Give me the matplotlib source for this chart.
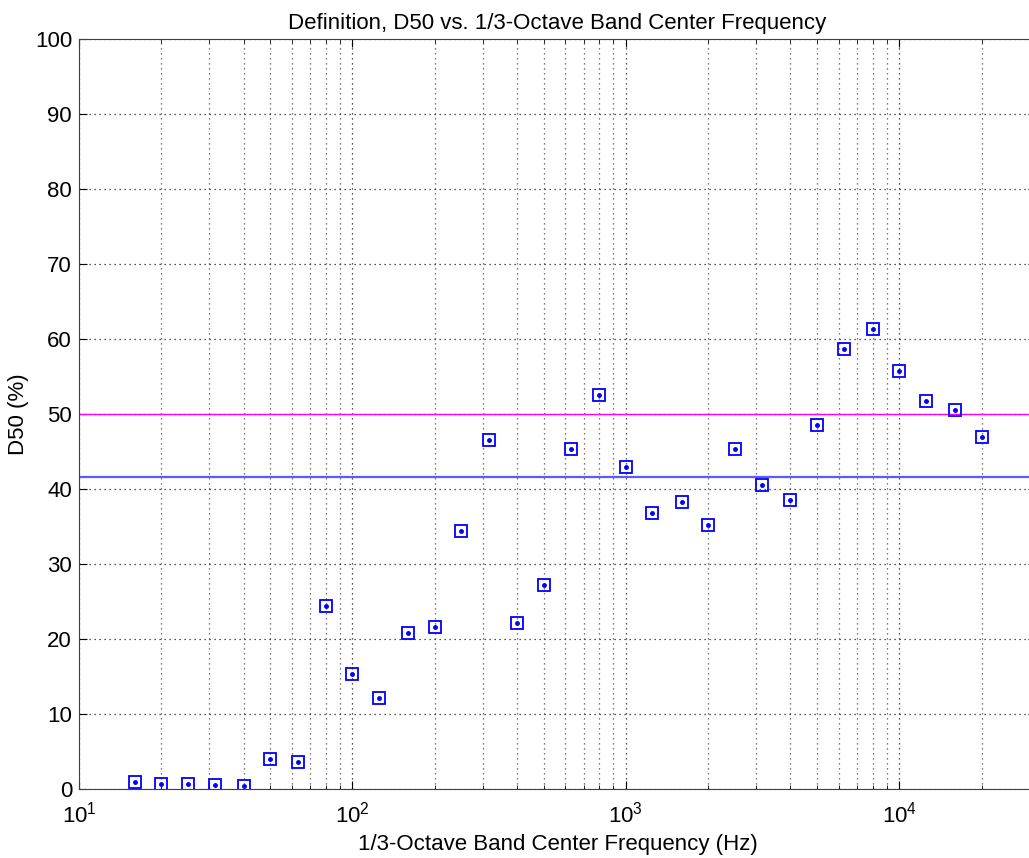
import matplotlib
matplotlib.use("Agg")
import matplotlib.pyplot as plt
import numpy as np

plt.rcParams['font.family'] = ['Liberation Sans', 'DejaVu Sans']
plt.rcParams['mathtext.fontset'] = 'custom'
plt.rcParams['mathtext.rm'] = 'Liberation Sans'

# 1/3-octave band centers and measured definition values
freqs = [16, 20, 25, 31.5, 40, 50, 63, 80, 100, 125, 160, 200, 250, 315, 400, 500,
         630, 800, 1000, 1250, 1600, 2000, 2500, 3150, 4000, 5000, 6300, 8000,
         10000, 12500, 16000, 20000]
d50 = [1.0, 0.7, 0.7, 0.5, 0.4, 4.0, 3.6, 24.4, 15.4, 12.1, 20.8, 21.6, 34.4, 46.6,
       22.1, 27.2, 45.3, 52.5, 42.9, 36.8, 38.3, 35.2, 45.4, 40.6, 38.5, 48.5,
       58.7, 61.3, 55.7, 51.7, 50.5, 47.0]
target = 50.0
average = 41.6

W, H = 1029, 858
fig = plt.figure(figsize=(W / 100, H / 100), dpi=100)
ax = fig.add_axes([79 / W, 1 - 789 / H, (1036 - 79) / W, (789 - 39) / H])

ax.set_xscale('log')
ax.set_xlim(10, 10 ** 4.5)
ax.set_ylim(0, 100)
ax.set_yticks(np.arange(0, 101, 10))

ax.grid(True, which='major', linestyle=(0, (1, 3)), color='#202020', linewidth=0.9)
ax.grid(True, which='minor', axis='x', linestyle=(0, (1, 3)), color='#505050', linewidth=0.9)
ax.set_axisbelow(True)

ax.axhline(target, color='#ff00ff', linewidth=1.0)
ax.axhline(average, color='#5a5aff', linewidth=1.6)
ax.plot(freqs, d50, linestyle='none', marker='s', markersize=8,
        markerfacecolor='none', markeredgecolor='#0000ff', markeredgewidth=1.3)
ax.plot(freqs, d50, linestyle='none', marker='.', markersize=5, color='#0000ff')

ax.tick_params(which='both', direction='in', labelsize=16, top=True, right=True)
ax.tick_params(which='major', length=6)
ax.tick_params(which='minor', length=3)
ax.tick_params(axis='x', pad=9)
ax.tick_params(axis='y', pad=5)
for s in ax.spines.values():
    s.set_color('#404040')

ax.set_title('Definition, D50 vs. 1/3-Octave Band Center Frequency', fontsize=16, pad=7)
ax.set_xlabel('1/3-Octave Band Center Frequency (Hz)', fontsize=16, labelpad=5)
ax.set_ylabel('D50 (%)', fontsize=16, labelpad=4)

fig.savefig('out.png', dpi=100)
